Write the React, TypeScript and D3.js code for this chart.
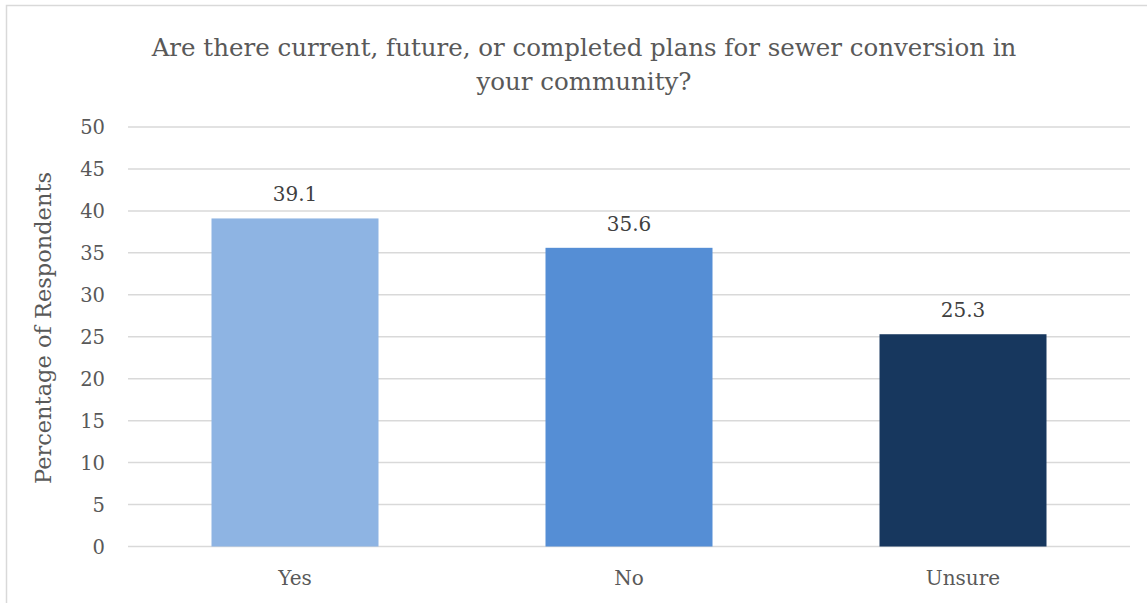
import React from "react";
import * as d3 from "d3";

const categories = ["Yes", "No", "Unsure"];
const values = [39.1, 35.6, 25.3];
const colors = ["#8EB4E3", "#558ED5", "#17375E"];
const yTicks = [0, 5, 10, 15, 20, 25, 30, 35, 40, 45, 50];
const titleLines = [
  "Are there current, future, or completed plans for sewer conversion in",
  "your community?",
];
const yAxisTitle = "Percentage of Respondents";

const W = 1147;
const H = 603;
const FONT = "'DejaVu Serif', 'Liberation Serif', serif";

export default function App() {
  const left = 128;
  const right = 1130;
  const top = 127;
  const bottom = 546.5;
  const x = d3.scaleBand<string>().domain(categories).range([left, right]).paddingInner(0.5).paddingOuter(0.25);
  const y = d3.scaleLinear().domain([0, 50]).range([bottom, top]);

  return (
    <svg
      width={W}
      height={H}
      style={{ position: "absolute", left: 0, top: 0, background: "#fff" }}
      fontFamily={FONT}
    >
      <rect x={6.5} y={5.5} width={W + 10} height={H + 10} fill="#fff" stroke="#D9D9D9" strokeWidth={1.5} />
      {titleLines.map((t, i) => (
        <text key={i} x={584} y={56 + i * 34} textAnchor="middle" fontSize={24.5} fill="#595959">
          {t}
        </text>
      ))}
      {yTicks.map((t) => (
        <g key={t}>
          <line x1={left} x2={right} y1={y(t)} y2={y(t)} stroke="#D9D9D9" strokeWidth={1.5} />
          <text x={105} y={y(t)} dy="0.36em" textAnchor="end" fontSize={19.5} fill="#595959">
            {t}
          </text>
        </g>
      ))}
      <text
        transform={`translate(51, 328) rotate(-90)`}
        textAnchor="middle"
        fontSize={22.5}
        fill="#595959"
      >
        {yAxisTitle}
      </text>
      {categories.map((c, i) => (
        <g key={c}>
          <rect x={x(c)} y={y(values[i])} width={x.bandwidth()} height={y(0) - y(values[i])} fill={colors[i]} />
          <text x={(x(c) as number) + x.bandwidth() / 2} y={y(values[i]) - 17} textAnchor="middle" fontSize={20} fill="#404040">
            {values[i].toFixed(1)}
          </text>
          <text x={(x(c) as number) + x.bandwidth() / 2} y={585} textAnchor="middle" fontSize={20} fill="#595959">
            {c}
          </text>
        </g>
      ))}
    </svg>
  );
}
